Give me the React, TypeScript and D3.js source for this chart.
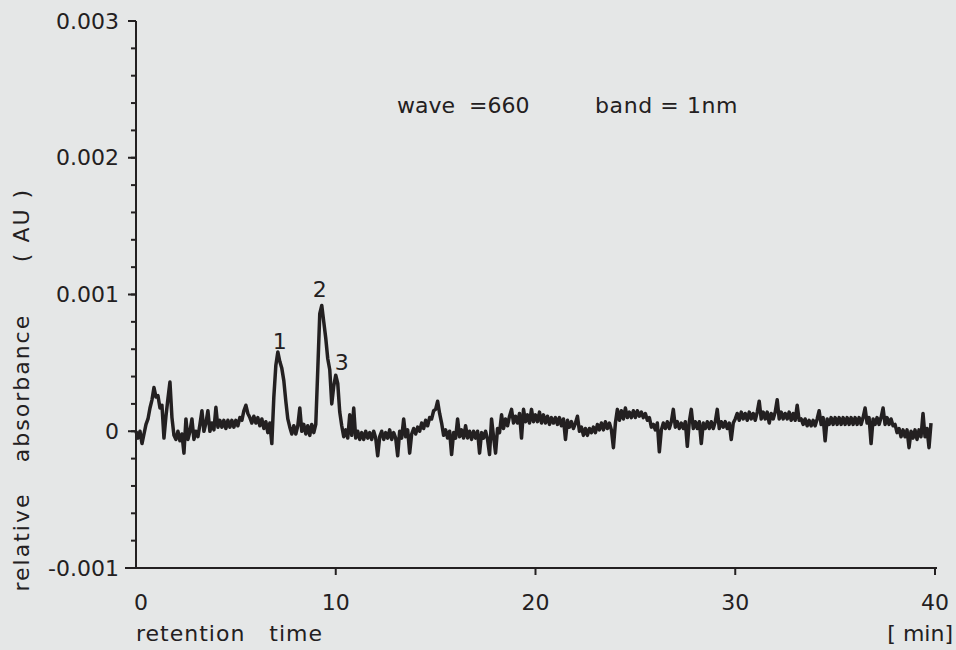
import React from "react";
import * as d3 from "d3";

// retention time step (min) between samples; trace values in units of 1e-4 AU
const timeStep = 0.1;
const absorbance1e4: number[] = [
  // 0-10 min
  0.0, -0.5, 0.0, -0.9, -0.2, 0.5, 0.9, 1.7, 2.3, 3.2,
  2.5, 2.6, 1.7, 1.9, -0.5, 1.1, 2.4, 3.6, 1.0, -0.3,
  -0.6, 0.0, -0.7, -0.2, -1.6, 0.9, -0.6, 0.0, 0.9, -0.6,
  0.0, -0.4, 0.5, 1.5, 0.0, 0.6, 1.5, 0.0, 0.6, 0.1,
  1.75, 0.3, 0.8, 0.3, 0.8, 0.2, 0.8, 0.3, 0.8, 0.3,
  0.8, 0.4, 1.0, 0.8, 1.5, 1.9, 1.3, 1.0, 0.6, 1.1,
  0.6, 1.0, 0.4, 0.9, 0.2, 0.7, -0.1, 0.6, -0.9, 2.5,
  4.8, 5.8, 5.1, 4.6, 3.7, 2.2, 0.9, 0.3, -0.2, 0.4,
  -0.2, 0.4, 1.7, 0.0, 0.5, -0.2, 0.4, -0.3, 0.5, -0.1,
  0.5, 4.5, 8.6, 9.2, 8.0, 6.8, 5.3, 4.5, 2.0, 3.3,
  // 10-20 min
  4.1, 3.5, 1.4, 0.4, -0.4, 0.1, -0.5, 1.2, -0.3, 1.7,
  -0.5, 0.0, -0.6, -0.1, -0.6, 0.0, -0.5, -0.1, -0.6, 0.0,
  -0.5, -1.8, -0.4, 0.0, -0.6, -0.1, -0.5, 0.1, -0.6, -0.1,
  -0.5, -1.8, 0.0, -0.5, 0.9, -0.4, 0.1, -1.6, -0.2, 0.2,
  -0.2, 0.3, 0.0, 0.6, 0.2, 0.8, 0.4, 1.0, 0.9, 1.5,
  1.6, 2.2, 1.3, 0.6, -0.3, 0.1, -0.5, 0.0, -1.7, -0.1,
  -0.5, 0.9, -0.4, 0.1, -0.5, 0.4, -0.5, 0.0, -0.6, 0.0,
  -0.5, 0.0, -1.6, -0.1, -0.5, 0.0, -0.6, -1.7, 0.9, -0.4,
  -1.6, 0.2, -0.1, 1.2, 0.2, 0.9, 0.4, 1.1, 1.6, 0.6,
  1.1, 0.6, 1.3, -0.5, 1.6, 0.7, 1.2, 0.6, 1.6, 0.7,
  // 20-30 min
  1.2, 0.7, 1.4, 0.6, 1.2, 0.6, 1.1, 0.5, 1.0, 0.6,
  1.0, 0.5, 1.0, 0.4, 0.9, -0.6, 0.8, 0.3, 0.7, 0.2,
  0.6, 1.1, 0.0, 0.3, -0.3, 0.2, -0.3, 0.2, -0.1, 0.3,
  -0.1, 0.5, 0.1, 0.6, 0.1, 0.7, 0.2, 0.6, 0.1, -1.2,
  0.6, 1.6, 0.8, 1.5, 0.9, 1.7, 1.0, 1.4, 1.0, 1.5,
  1.0, 1.5, 1.1, 1.4, 1.0, 1.3, 0.8, 1.0, 0.3, 0.5,
  0.1, 0.6, -1.5, 0.1, 0.6, 0.2, 0.7, 0.2, 0.7, 1.6,
  0.3, 0.7, 0.2, 0.6, 0.2, 0.7, -1.1, 0.7, 1.6, 0.2,
  0.7, 0.2, 0.7, -0.9, 0.6, 0.2, 0.7, 0.2, 0.7, 0.2,
  0.7, 1.6, 0.2, 0.7, 0.3, 0.7, 0.2, 0.6, -0.6, 0.6,
  // 30-40 min
  0.9, 1.3, 0.8, 1.4, 0.9, 1.3, 0.8, 1.4, 0.9, 1.3,
  0.8, 1.4, 2.2, 0.9, 1.4, 0.9, 1.4, 0.6, 1.3, 0.9,
  1.4, 2.3, 0.9, 1.4, 0.9, 1.3, 0.9, 1.4, 0.8, 1.3,
  0.8, 1.9, 0.8, 0.9, 0.5, 0.9, 0.4, 0.8, 0.4, 0.8,
  0.4, 0.9, 1.5, 0.5, 1.0, -0.7, 0.9, 0.5, 1.0, 0.5,
  1.0, 0.5, 1.0, 0.5, 1.0, 0.5, 1.0, 0.5, 1.0, 0.5,
  1.0, 0.5, 1.0, 0.5, 1.0, 1.7, 0.6, 1.0, -0.9, 0.9,
  0.5, 1.0, 0.5, 1.0, 1.7, 0.5, 1.0, 0.5, 0.9, 0.4,
  0.5, -0.1, 0.2, -0.4, 0.1, -0.4, 0.1, -1.2, 0.0, -0.5,
  0.1, -0.6, 0.1, -0.4, 1.3, -0.4, 0.2, -1.2, 0.6,
];

const xTicks = [0, 10, 20, 30, 40];
const yMajorTicks = [-0.001, 0, 0.001, 0.002, 0.003];
const yTickLabels = ["-0.001", "0", "0.001", "0.002", "0.003"];
const yMinorTicks = d3.range(-0.001, 0.003 + 1e-9, 0.0002);

const peakLabels = ["1", "2", "3"];
const peakTimes = [7.2, 9.2, 10.3];
const peakValues = [0.0006, 0.00098, 0.00045];

const yLabelWords = ["relative", "absorbance", "( AU )"];

const W = 956;
const H = 650;
const ink = "#232021";
const bg = "#e5e7e7";
const font = "'DejaVu Sans', sans-serif";

export default function App() {
  const x = d3.scaleLinear().domain([0, 40]).range([136, 935]);
  const y = d3.scaleLinear().domain([-0.001, 0.003]).range([568, 21]);

  const data = absorbance1e4.map((v, i) => ({ t: i * timeStep, a: v * 1e-4 }));
  const line = d3
    .line<{ t: number; a: number }>()
    .x((d) => x(d.t))
    .y((d) => y(d.a));

  const x0 = x(0);
  const yBase = y(-0.001);
  const yLabelCenters = [542, 388, 225];

  return (
    <svg
      width={W}
      height={H}
      style={{ position: "fixed", left: 0, top: 0, background: bg }}
      fontFamily={font}
    >
      <rect x={0} y={0} width={W} height={H} fill={bg} />
      {/* y axis */}
      <line x1={x0} x2={x0} y1={y(0.003)} y2={yBase} stroke={ink} strokeWidth={2} />
      {yMinorTicks.map((v, i) => (
        <line key={"m" + i} x1={x0 - 5} x2={x0} y1={y(v)} y2={y(v)} stroke={ink} strokeWidth={2} />
      ))}
      {yMajorTicks.map((v, i) => (
        <g key={"y" + i}>
          <line x1={x0 - 8} x2={x0} y1={y(v)} y2={y(v)} stroke={ink} strokeWidth={2} />
          <text
            x={x0 - 17}
            y={y(v)}
            textAnchor="end"
            dominantBaseline="central"
            fontSize={22}
            fill={ink}
          >
            {yTickLabels[i]}
          </text>
        </g>
      ))}
      {/* x axis */}
      <line x1={x0 - 11} x2={x(40) + 2} y1={yBase} y2={yBase} stroke={ink} strokeWidth={2} />
      {xTicks.map((v, i) => (
        <g key={"x" + i}>
          {v !== 0 && (
            <line x1={x(v)} x2={x(v)} y1={yBase} y2={yBase + 7} stroke={ink} strokeWidth={2} />
          )}
          <text
            x={x(v) + (v === 0 ? 5 : 0)}
            y={610}
            textAnchor="middle"
            fontSize={22}
            fill={ink}
          >
            {v}
          </text>
        </g>
      ))}
      <text x={136} y={641} fontSize={22} letterSpacing={1} fill={ink} style={{ whiteSpace: "pre" }}>
        {"retention   time"}
      </text>
      <text x={953} y={641} textAnchor="end" fontSize={22} fill={ink} style={{ whiteSpace: "pre" }}>
        {"[ min]"}
      </text>
      {yLabelWords.map((w, i) => (
        <text
          key={"yl" + i}
          transform={`translate(29, ${yLabelCenters[i]}) rotate(-90)`}
          textAnchor="middle"
          fontSize={22}
          letterSpacing={2}
          fill={ink}
          style={{ whiteSpace: "pre" }}
        >
          {w}
        </text>
      ))}
      <text x={397} y={113} fontSize={22} fill={ink} style={{ whiteSpace: "pre" }}>
        {"wave  =660"}
      </text>
      <text x={595} y={113} fontSize={22} letterSpacing={0.6} fill={ink} style={{ whiteSpace: "pre" }}>
        {"band = 1nm"}
      </text>
      {/* trace */}
      <path
        d={line(data) || ""}
        fill="none"
        stroke={ink}
        strokeWidth={3.5}
        strokeLinejoin="round"
      />
      {peakLabels.map((l, i) => (
        <text
          key={"p" + i}
          x={x(peakTimes[i])}
          y={y(peakValues[i])}
          textAnchor="middle"
          fontSize={22}
          fill={ink}
        >
          {l}
        </text>
      ))}
    </svg>
  );
}
